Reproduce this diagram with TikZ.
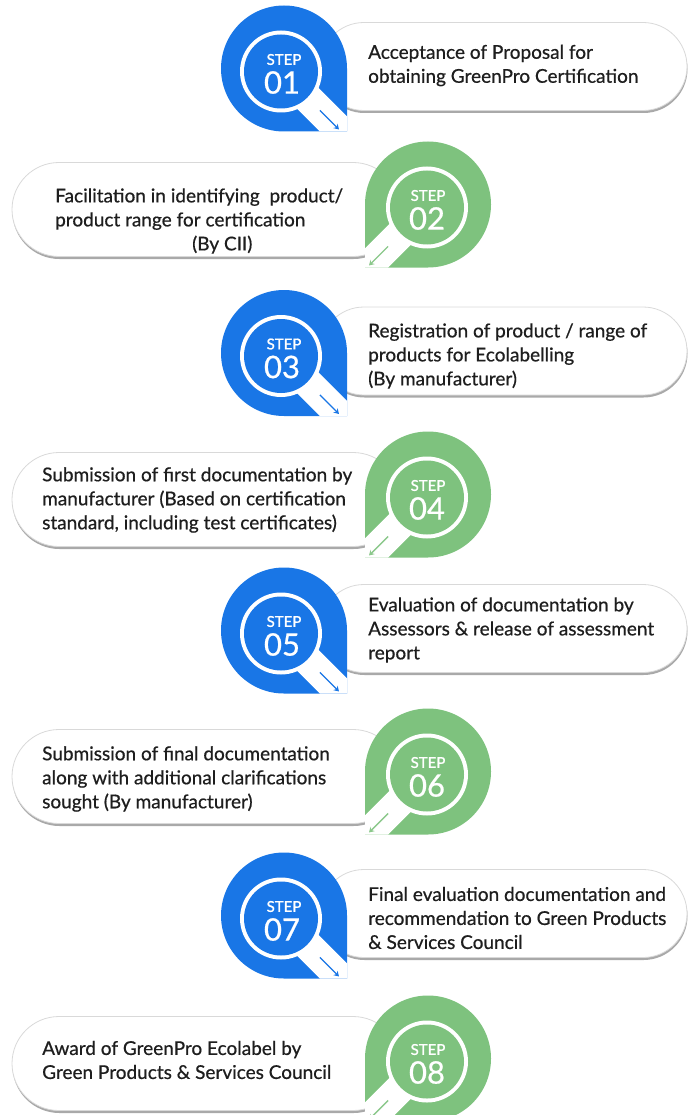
\documentclass[tikz,border=0pt]{standalone}
\usepackage{fontspec}
\setmainfont{Lato}[FakeBold=0.6]
\newfontfamily\stepfont{Lato}[FakeBold=1.2]
\usepackage{tikz}
\usetikzlibrary{
	arrows.meta,
	positioning,
	shapes.misc,
	shadows
}
\definecolor{main}{RGB}{25,118,230}
\definecolor{second}{RGB}{126,194,126}
\definecolor{third}{RGB}{30,30,30}
\tikzset{
  % box
	stpill/.style   ={rounded rectangle,fill=white,draw=black!15,line width=0.8pt,inner sep=0pt,
	                  drop shadow={shadow xshift=0.5pt,shadow yshift=-2.5pt,fill=black!45,opacity=.75}},
	stpill1/.style  ={stpill,minimum width=367pt,minimum height=88pt}, % blue row
	stpill2/.style  ={stpill,minimum width=388pt,minimum height=94pt}, % green row
  % text
	sttext/.style   ={text=third,align=left,inner sep=0pt,anchor=west,font=\fontsize{19}{24}\selectfont},
	stword/.style   ={text=white,inner sep=0pt,font=\stepfont\fontsize{15}{15}\selectfont},
	stnum/.style    ={text=white,inner sep=0pt,font=\fontsize{31}{31}\selectfont},
  % arrow
	stra/.style     ={-{Stealth[length=5pt,width=6pt]},line width=1.4pt},
  % badge, tip at lower right
	stbadge1/.pic   ={
		\begin{scope}
			\clip (63,0) -- (63,-63) -- (0,-63) arc[start angle=-90,end angle=-360,radius=63] -- cycle;
			\fill[main] (-70,-70) rectangle (70,70);
			\fill[white,shift={(-3,-3)},rotate=-45] (0,-15) rectangle (120,15);
		\end{scope}
		\begin{scope}[shift={(-3,-3)}]
			\fill[white] (0,0) circle[radius=41];
			\fill[main] (0,0) circle[radius=37];
			\coordinate (-from) at (-45:55);
			\coordinate (-to) at (-45:82);
			\draw[stra,main] (-from) -- (-to);
			\node[stword] (-word) at (3,12) {STEP};
			\node[stnum] (-num) at (1,-11) {#1};
		\end{scope}
	},
  % badge, tip at lower left
	stbadge2/.pic   ={
		\begin{scope}
			\clip (-63,0) -- (-63,-63) -- (0,-63) arc[start angle=-90,end angle=180,radius=63] -- cycle;
			\fill[second] (-70,-70) rectangle (70,70);
			\fill[white,shift={(-1,-3)},rotate=-135] (0,-15) rectangle (120,15);
		\end{scope}
		\begin{scope}[shift={(-1,-3)}]
			\fill[white] (0,0) circle[radius=41];
			\fill[second] (0,0) circle[radius=37];
			\coordinate (-from) at (-135:55);
			\coordinate (-to) at (-135:82);
			\draw[stra,second!90] (-from) -- (-to);
			\node[stword] (-word) at (1,12) {STEP};
			\node[stnum] (-num) at (0,-11) {#1};
		\end{scope}
	}
}
\begin{document}
\begin{tikzpicture}[x=1pt,y=1pt]
	\useasboundingbox (0,0) rectangle (689,-1115);
	% boxes
	\node[stpill1] (p1) at (503.5,-66.5) {};
	\node[stpill2] (p2) at (206,-209.5) {};
	\node[stpill1] (p3) at (503.5,-351) {};
	\node[stpill2] (p4) at (206,-499.5) {};
	\node[stpill1] (p5) at (503.5,-628.5) {};
	\node[stpill2] (p6) at (206,-776.5) {};
	\node[stpill1] (p7) at (503.5,-913.5) {};
	\node[stpill2] (p8) at (206,-1063.5) {};
	% badges
	\pic (b1) at (284,-68.5) {stbadge1=01};
	\pic (b2) at (428,-204.5) {stbadge2=02};
	\pic (b3) at (284,-353) {stbadge1=03};
	\pic (b4) at (428,-494.5) {stbadge2=04};
	\pic (b5) at (284,-630.5) {stbadge1=05};
	\pic (b6) at (428,-771.5) {stbadge2=06};
	\pic (b7) at (284,-915.5) {stbadge1=07};
	\pic (b8) at (428,-1058.5) {stbadge2=08};
	% texts
	\node[sttext] (t1) at (368,-65.5) {Acceptance of Proposal for\\obtaining GreenPro Certification};
	\node[sttext] (t2) at (55,-221) {Facilitation in identifying \ product/\\product range for certification\\\hspace*{137pt}(By CII)};
	\node[sttext] (t3) at (368,-356) {Registration of product / range of\\products for Ecolabelling\\(By manufacturer)};
	\node[sttext] (t4) at (42,-500) {Submission of first documentation by\\manufacturer (Based on certification\\standard, including test certificates)};
	\node[sttext] (t5) at (368,-630) {Evaluation of documentation by\\Assessors \& release of assessment\\report};
	\node[sttext] (t6) at (42,-779) {Submission of final documentation\\along with additional clarifications\\sought (By manufacturer)};
	\node[sttext] (t7) at (368,-918) {Final evaluation documentation and\\recommendation to Green Products\\\& Services Council};
	\node[sttext] (t8) at (42,-1060) {Award of GreenPro Ecolabel by\\Green Products \& Services Council};
\end{tikzpicture}
\end{document}
